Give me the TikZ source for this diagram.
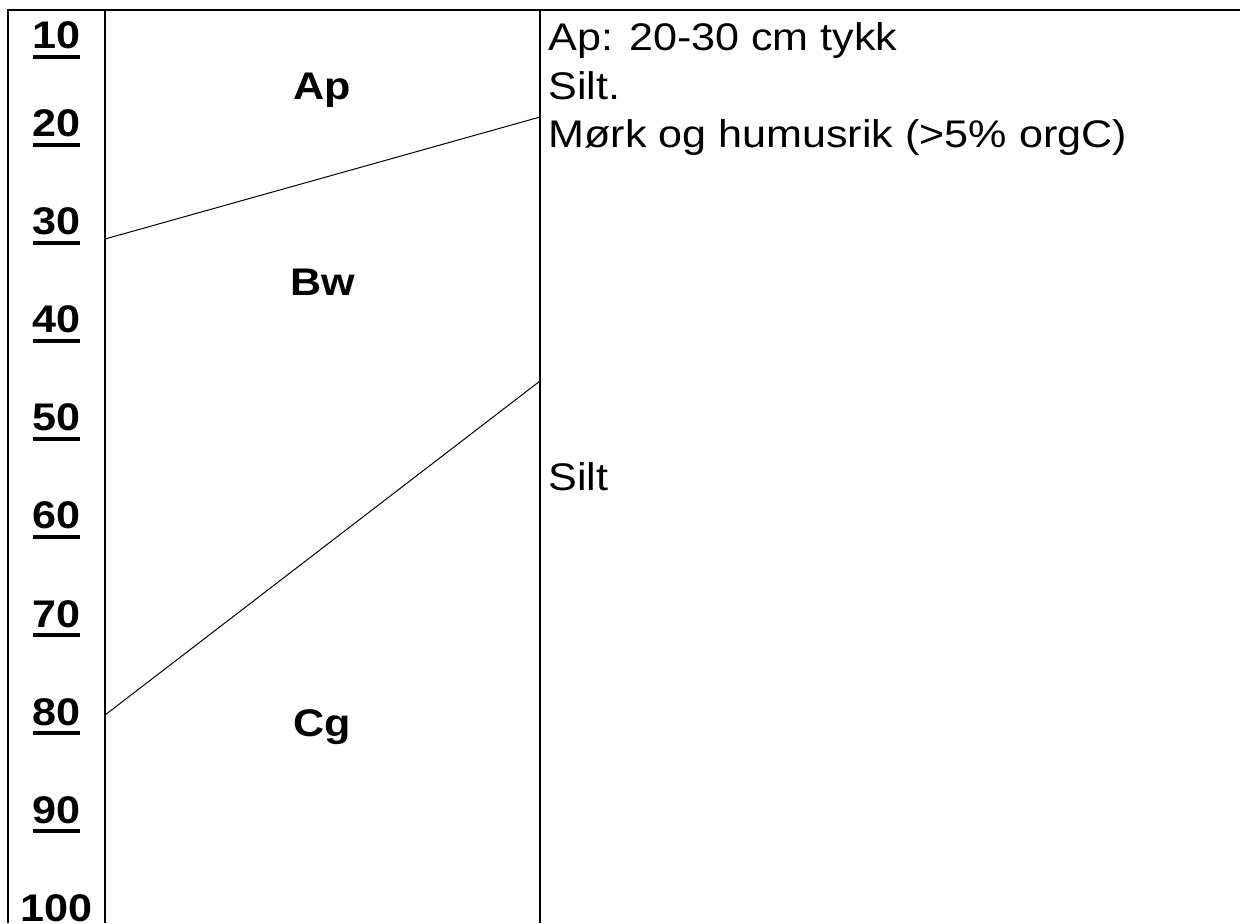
\documentclass[tikz,border=0pt]{standalone}
\usepackage{fontspec}
\setmainfont{Liberation Sans}[FakeStretch=1.12]
\usetikzlibrary{positioning}
\newcommand\depthul[1]{\setbox0=\hbox{#1}\rlap{\rule[-5pt]{\wd0}{2pt}}\box0}

\begin{document}
\begin{tikzpicture}[x=0.5pt,y=-0.5pt,
  every node/.style={font=\fontsize{19.25}{24}\selectfont,inner sep=0pt},
  frame/.style={line width=1pt},
  horizon/.style={line width=0.5pt},
  depth/.style={anchor=base,font=\fontsize{19.25}{24}\selectfont\bfseries},
  layer/.style={anchor=base,font=\fontsize{19.25}{24}\selectfont\bfseries},
  desc/.style={anchor=base west}]
  \useasboundingbox (0,0) rectangle (1240,923);
  \draw[frame] (8,923) -- (8,10) -- (1240,10);
  \draw[frame] (105,10) -- (105,923);
  \draw[frame] (540,10) -- (540,923);
  \coordinate (apl) at (105,239);  \coordinate (apr) at (540,117);
  \coordinate (bwl) at (105,715);  \coordinate (bwr) at (540,381);
  \draw[horizon] (apl) -- (apr);
  \draw[horizon] (bwl) -- (bwr);
  \node[depth] (d10) at (56.5,48.5) {\depthul{10}};
  \node[depth] (d20) at (56.5,136.5) {\depthul{20}};
  \node[depth] (d30) at (56.5,234.6) {\depthul{30}};
  \node[depth] (d40) at (56.5,332.7) {\depthul{40}};
  \node[depth] (d50) at (56.5,430.8) {\depthul{50}};
  \node[depth] (d60) at (56.5,528.9) {\depthul{60}};
  \node[depth] (d70) at (56.5,627) {\depthul{70}};
  \node[depth] (d80) at (56.5,725.1) {\depthul{80}};
  \node[depth] (d90) at (56.5,823.2) {\depthul{90}};
  \node[depth] (d100) at (56.5,921.3) {100};
  \node[layer] (ap) at (322.5,99.3) {Ap};
  \node[layer] (bw) at (322.5,295) {Bw};
  \node[layer] (cg) at (322.5,736.5) {Cg};
  \node[desc] (apthick) at (548,50) {Ap: 20-30 cm tykk};
  \node[desc] (apsilt) at (548,99) {Silt.};
  \node[desc] (aphum) at (548,147.5) {Mørk og humusrik (>5\% orgC)};
  \node[desc] (cgsilt) at (548,490) {Silt};
\end{tikzpicture}
\end{document}
